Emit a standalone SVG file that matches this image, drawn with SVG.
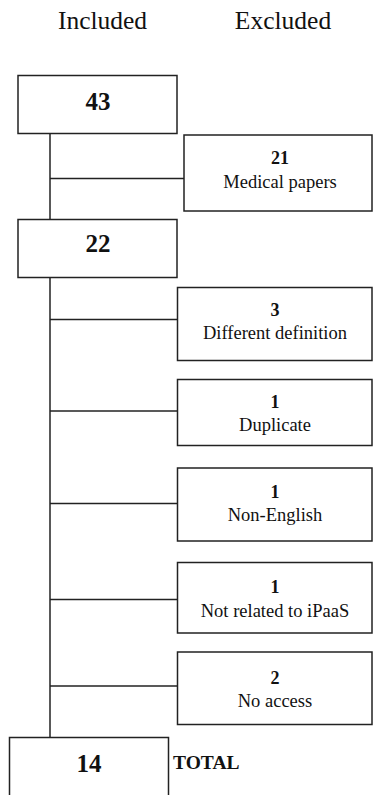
<svg xmlns="http://www.w3.org/2000/svg" width="373" height="795" viewBox="0 0 373 795">
<style>
text{font-family:"Liberation Serif","Times New Roman",serif;fill:#111;text-anchor:middle}
.h{font-size:25.5px}
.big{font-size:25px;font-weight:bold}
.num{font-size:18px;font-weight:bold}
.lbl{font-size:18.5px}
rect{fill:#fff;stroke:#222;stroke-width:1.5}
.c line{stroke:#222;stroke-width:1.5}
</style>
<rect x="0" y="0" width="373" height="795" style="fill:#fff;stroke:none"/>
<g id="headers">
<text class="h" x="102.5" y="28.5">Included</text>
<text class="h" x="283" y="28.5">Excluded</text>
</g>
<g class="c" id="connectors">
<line x1="50" y1="133.5" x2="50" y2="219.5"/>
<line x1="50" y1="178.5" x2="184" y2="178.5"/>
<line x1="50" y1="277.5" x2="50" y2="737.5"/>
<line x1="50" y1="319.5" x2="177.5" y2="319.5"/>
<line x1="50" y1="411" x2="177.5" y2="411"/>
<line x1="50" y1="503.5" x2="177.5" y2="503.5"/>
<line x1="50" y1="599.5" x2="177.5" y2="599.5"/>
<line x1="50" y1="686" x2="177.5" y2="686"/>
</g>
<g id="n43">
<rect x="18" y="75.5" width="159" height="58"/>
<text class="big" x="98" y="110">43</text>
</g>
<g id="n21">
<rect x="184" y="135" width="188" height="76"/>
<text class="num" x="280" y="163.5">21</text>
<text class="lbl" x="280" y="187.5">Medical papers</text>
</g>
<g id="n22">
<rect x="18" y="219.5" width="159" height="58"/>
<text class="big" x="98" y="252">22</text>
</g>
<g id="n3">
<rect x="177.5" y="287.5" width="194.5" height="73"/>
<text class="num" x="275" y="316">3</text>
<text class="lbl" x="275" y="338.5">Different definition</text>
</g>
<g id="ndup">
<rect x="177.5" y="379.5" width="194.5" height="66"/>
<text class="num" x="275" y="407.5">1</text>
<text class="lbl" x="275" y="430.5">Duplicate</text>
</g>
<g id="nnoneng">
<rect x="177.5" y="468" width="194.5" height="73"/>
<text class="num" x="275" y="497.5">1</text>
<text class="lbl" x="275" y="520.5">Non-English</text>
</g>
<g id="nipaas">
<rect x="177.5" y="562.5" width="194.5" height="70.5"/>
<text class="num" x="275" y="592.5">1</text>
<text class="lbl" x="275" y="616.5">Not related to iPaaS</text>
</g>
<g id="nnoaccess">
<rect x="177.5" y="652" width="194.5" height="72.5"/>
<text class="num" x="275" y="684">2</text>
<text class="lbl" x="275" y="706.5">No access</text>
</g>
<g id="n14">
<rect x="9.5" y="737.5" width="159" height="70"/>
<text class="big" x="89" y="771.5">14</text>
<text class="num" x="173" y="768.5" style="text-anchor:start;font-size:19.5px">TOTAL</text>
</g>
</svg>
